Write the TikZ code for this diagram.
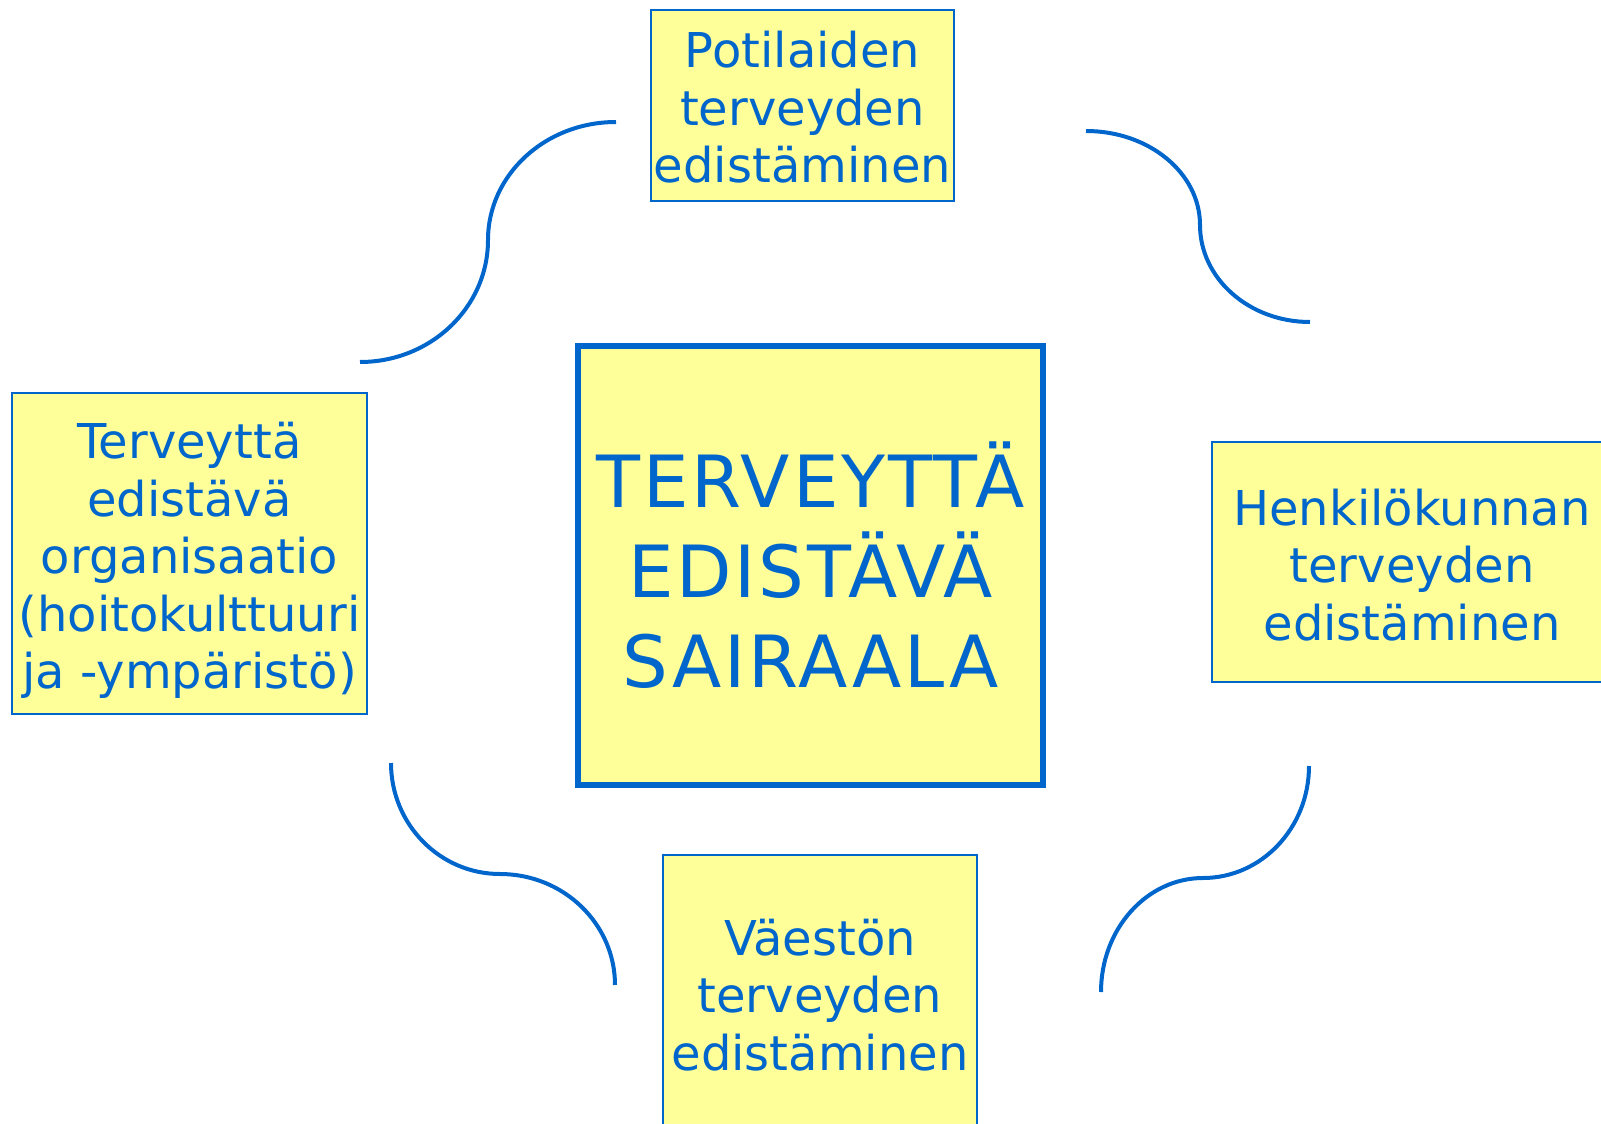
\documentclass[tikz,border=0pt]{standalone}
\usepackage{fontspec}
\setmainfont{DejaVu Sans}
\definecolor{hblue}{HTML}{0066CC}
\definecolor{hyellow}{HTML}{FFFF99}
\tikzset{
  sidebox/.style={draw=hblue, line width=1pt, fill=hyellow, inner sep=0pt,
    align=center, text=hblue, font=\fontsize{24}{28.8}\selectfont},
  sidetext/.style={text=hblue, align=center, inner sep=0pt, font=\fontsize{24}{28.8}\selectfont},
  mainbox/.style={draw=hblue, line width=2.75pt, fill=hyellow, inner sep=0pt,
    align=center, text=hblue, font=\fontsize{36}{45}\selectfont\addfontfeatures{LetterSpace=4}},
  swirl/.style={draw=hblue, line width=2pt}
}
\begin{document}
\begin{tikzpicture}[x=0.5pt,y=-0.5pt]
\useasboundingbox (0,0) rectangle (1601,1124);
% boxes
\node[mainbox, minimum width=232.5pt, minimum height=219.5pt] (main) at (810.5,565.5)
  {TERVEYTTÄ\\EDISTÄVÄ\\SAIRAALA};
\node[sidebox, minimum width=151.5pt, minimum height=95.5pt] (top) at (802.5,105.5) {};
\node[sidetext] (toptext) at (802.5,107.5) {Potilaiden\\terveyden\\edistäminen};
\node[sidebox, minimum width=177.5pt, minimum height=160.5pt] (left) at (189.5,553.5) {};
\node[sidetext] (lefttext) at (189.5,560.5)
  {Terveyttä\\edistävä\\organisaatio\\(hoitokulttuuri\\ja -ympäristö)};
\node[sidebox, minimum width=200pt, minimum height=120pt] (right) at (1412,562) {};
\node[sidetext] (righttext) at (1412,565) {Henkilökunnan\\terveyden\\edistäminen};
\node[sidebox, minimum width=157pt, minimum height=142.5pt] (bottom) at (820,997.5) {};
\node[sidetext] (bottomtext) at (820,995) {Väestön\\terveyden\\edistäminen};
% swirl coordinates
\coordinate (tl1) at (616,122); \coordinate (tl2) at (488,240); \coordinate (tl3) at (360,362);
\coordinate (tr1) at (1086,131); \coordinate (tr2) at (1200,225); \coordinate (tr3) at (1310,322);
\coordinate (bl1) at (391,763); \coordinate (bl2) at (500,874); \coordinate (bl3) at (615,985);
\coordinate (br1) at (1309,766); \coordinate (br2) at (1203,878); \coordinate (br3) at (1101,992);
% swirls
\draw[swirl] (tl1) .. controls (545.3,122) and (488,174.8) .. (tl2)
  .. controls (488,307.4) and (430.7,362) .. (tl3);
\draw[swirl] (tr1) .. controls (1149,131) and (1200,173) .. (tr2)
  .. controls (1200,278.6) and (1249.2,322) .. (tr3);
\draw[swirl] (bl1) .. controls (391,824.3) and (439.8,874) .. (bl2)
  .. controls (563.5,874) and (615,923.7) .. (bl3);
\draw[swirl] (br1) .. controls (1309,827.9) and (1261.5,878) .. (br2)
  .. controls (1146.7,878) and (1101,929) .. (br3);
\end{tikzpicture}
\end{document}
